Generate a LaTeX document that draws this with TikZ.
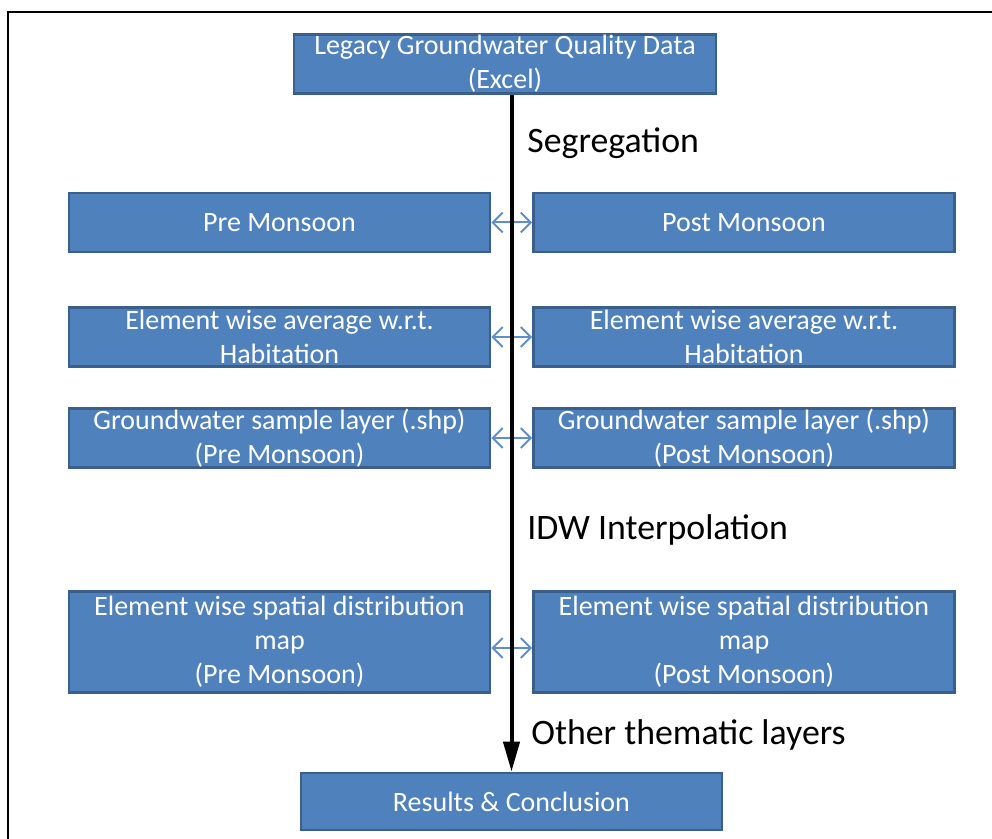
\documentclass[tikz,border=0pt]{standalone}
\usepackage{fontspec}
\setmainfont{Carlito}
\usetikzlibrary{arrows.meta}
\definecolor{cajaazul}{HTML}{4F81BD}
\definecolor{bordeazul}{HTML}{3A5F8C}
\definecolor{flechaazul}{HTML}{5F8FCB}

\begin{document}
\begin{tikzpicture}[x=0.5pt, y=-0.5pt,
    caja/.style={draw=bordeazul, line width=1.3pt, fill=cajaazul, text=white,
        align=center, font=\fontsize{14}{17}\selectfont, inner sep=0pt,
        minimum width=210.5pt, minimum height=29.5pt},
    etiqueta/.style={anchor=west, inner sep=0pt, font=\fontsize{17.9}{21}\selectfont},
    doble/.style={flechaazul, line width=1pt,
        {Straight Barb[length=5pt,width=10pt]}-{Straight Barb[length=5pt,width=10pt]}},
    principal/.style={line width=2pt, -{Triangle[length=15pt,width=8pt]}}]
    \useasboundingbox (0,0) rectangle (992,839);

    % Marco (solo bordes superior e izquierdo)
    \draw[line width=1pt] (8,839) -- (8,12) -- (992,12);

    % Cajas
    \node[caja, minimum width=211pt] (legacy) at (505,64) {Legacy Groundwater Quality Data\\(Excel)};
    \node[caja] (pre) at (279.5,222.5) {Pre Monsoon};
    \node[caja] (post) at (744,222.5) {Post Monsoon};
    \node[caja] (avgpre) at (279.5,337) {Element wise average w.r.t.\\Habitation};
    \node[caja] (avgpost) at (744,337) {Element wise average w.r.t.\\Habitation};
    \node[caja] (shppre) at (279.5,438) {Groundwater sample layer (.shp)\\(Pre Monsoon)};
    \node[caja] (shppost) at (744,438) {Groundwater sample layer (.shp)\\(Post Monsoon)};
    \node[caja, minimum height=50.5pt] (mappre) at (279.5,642) {Element wise spatial distribution\\map\\(Pre Monsoon)};
    \node[caja, minimum height=50.5pt] (mappost) at (744,642) {Element wise spatial distribution\\map\\(Post Monsoon)};
    \node[caja, minimum height=28.5pt] (results) at (511.5,801.5) {Results \& Conclusion};

    % Flechas dobles entre columnas
    \draw[doble] (pre) -- (post);
    \draw[doble] (avgpre) -- (avgpost);
    \draw[doble] (shppre) -- (shppost);
    \draw[doble] ([yshift=-3pt]mappre.east) -- ([yshift=-3pt]mappost.west);

    % Flecha principal
    \draw[principal] (legacy.south -| results.north) -- (results.north);

    % Etiquetas del flujo
    \node[etiqueta] (seg) at (527,143) {Segregation};
    \node[etiqueta] (idw) at (527,530) {IDW Interpolation};
    \node[etiqueta] (otras) at (531,735) {Other thematic layers};

\end{tikzpicture}
\end{document}
